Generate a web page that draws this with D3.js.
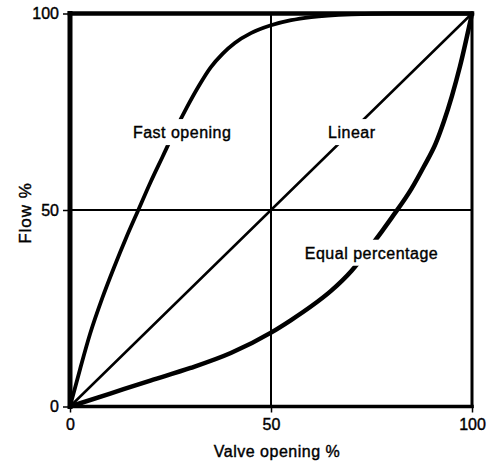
<!DOCTYPE html>
<html>
<head>
<meta charset="utf-8">
<script src="https://cdn.jsdelivr.net/npm/d3@7"></script>
<style>
    body { margin: 0; background: #fff; }
    text { font-family: 'Liberation Sans', Arial, sans-serif; fill: #000; }
</style>
</head>
<body>
<script>
// valve opening % -> flow %
var fastOpening = [
    [0, 0], [2.5, 9.5], [5, 18.5], [8, 27.5], [11, 35.5], [14, 43], [17, 50],
    [20, 57], [23, 63.5], [26, 70], [29, 76], [32, 81.5], [35, 86.3], [38, 89.8],
    [41, 92.5], [45, 95], [50, 97], [55, 98.3], [60, 99.1], [70, 99.8], [80, 100], [100, 100]
];
var linear = [[0, 0], [100, 100]];
var equalPercentage = [
    [0, 0], [10, 3.3], [20, 6.6], [30, 9.8], [40, 13.6], [50, 18.8], [55, 22],
    [60, 25.5], [65, 29.5], [70, 34.5], [75, 41], [80, 48], [85, 55.5], [88, 61],
    [91, 67], [93, 72.5], [95, 79], [97, 86.5], [100, 100]
];
var tickValues = [0, 50, 100];
var labels = [
    { text: 'Fast opening', x: 27.9, y: 68.3 },
    { text: 'Linear', x: 70.1, y: 68.3 },
    { text: 'Equal percentage', x: 75, y: 37.6 }
];

window.onload = function() {
    var w = 497, h = 462;
    var left = 70, right = 472, top = 13.5, bottom = 406.5;

    var svg = d3.select('body')
        .append('svg')
        .attr('width', w)
        .attr('height', h);

    var x = d3.scaleLinear().domain([0, 100]).range([left, right]);
    var y = d3.scaleLinear().domain([0, 100]).range([bottom, top]);

    // 50% grid lines
    svg.append('line')
        .attr('x1', x(50)).attr('x2', x(50))
        .attr('y1', y(0)).attr('y2', y(100))
        .style('stroke', '#000').style('stroke-width', 2);
    svg.append('line')
        .attr('x1', x(0)).attr('x2', x(100))
        .attr('y1', y(50)).attr('y2', y(50))
        .style('stroke', '#000').style('stroke-width', 2);

    var line = d3.line()
        .x(function(d) { return x(d[0]); })
        .y(function(d) { return y(d[1]); })
        .curve(d3.curveMonotoneX);

    var series = [
        { data: linear, width: 2.5 },
        { data: fastOpening, width: 3.8 },
        { data: equalPercentage, width: 4.5 }
    ];
    svg.selectAll('.curve')
        .data(series)
        .enter()
        .append('path')
        .attr('class', 'curve')
        .attr('d', function(d) { return line(d.data); })
        .style('fill', 'none')
        .style('stroke', '#000')
        .style('stroke-width', function(d) { return d.width; })
        .style('stroke-linecap', 'round');

    // frame: heavy left/top, lighter right/bottom
    var frame = [
        { x1: left, y1: bottom, x2: left, y2: top, sw: 5 },
        { x1: left, y1: top, x2: right, y2: top, sw: 4.5 },
        { x1: right, y1: top, x2: right, y2: bottom, sw: 3 },
        { x1: left, y1: bottom, x2: right, y2: bottom, sw: 3.5 }
    ];
    svg.selectAll('.frame')
        .data(frame)
        .enter()
        .append('line')
        .attr('class', 'frame')
        .attr('x1', function(d) { return d.x1; })
        .attr('y1', function(d) { return d.y1; })
        .attr('x2', function(d) { return d.x2; })
        .attr('y2', function(d) { return d.y2; })
        .style('stroke', '#000')
        .style('stroke-width', function(d) { return d.sw; })
        .style('stroke-linecap', 'square');

    // axes
    var yAxis = d3.axisLeft(y).tickValues(tickValues).tickSize(6).tickPadding(4);
    var xAxis = d3.axisBottom(x).tickValues(tickValues).tickSize(6).tickPadding(6);

    var gy = svg.append('g')
        .attr('transform', 'translate(' + (left - 1) + ',0)')
        .call(yAxis);
    var gx = svg.append('g')
        .attr('transform', 'translate(0,' + bottom + ')')
        .call(xAxis);
    [gx, gy].forEach(function(g) {
        g.select('.domain').remove();
        g.selectAll('.tick line').style('stroke', '#000').style('stroke-width', 1.5);
        g.selectAll('.tick text')
            .style('font-size', '16px')
            .style('font-family', "'Liberation Sans', Arial, sans-serif")
            .style('fill', '#000')
            .style('stroke', '#000')
            .style('stroke-width', 0.4);
    });

    // curve labels with white knock-out behind them
    var lab = svg.selectAll('.lab')
        .data(labels)
        .enter()
        .append('g')
        .attr('class', 'lab');
    lab.append('text')
        .attr('text-anchor', 'middle')
        .attr('x', function(d) { return x(d.x); })
        .attr('y', function(d) { return y(d.y); })
        .style('font-size', '16px')
        .style('letter-spacing', '0.5px')
        .style('stroke', '#000')
        .style('stroke-width', 0.4)
        .text(function(d) { return d.text; });
    lab.each(function() {
        var g = d3.select(this);
        var b = g.select('text').node().getBBox();
        g.insert('rect', 'text')
            .attr('x', b.x - 5)
            .attr('y', b.y - 5)
            .attr('width', b.width + 10)
            .attr('height', b.height + 9)
            .style('fill', '#fff');
    });

    // axis titles
    svg.append('text')
        .attr('text-anchor', 'middle')
        .attr('x', x(50) + 6)
        .attr('y', 457)
        .style('font-size', '16px')
        .style('letter-spacing', '0.5px')
        .style('stroke', '#000')
        .style('stroke-width', 0.4)
        .text('Valve opening %');

    svg.append('text')
        .attr('text-anchor', 'middle')
        .attr('transform', 'translate(31,' + (y(50) + 3) + ') rotate(-90)')
        .style('font-size', '17px')
        .style('letter-spacing', '1px')
        .style('stroke', '#000')
        .style('stroke-width', 0.4)
        .text('Flow %');
};
</script>
</body>
</html>
